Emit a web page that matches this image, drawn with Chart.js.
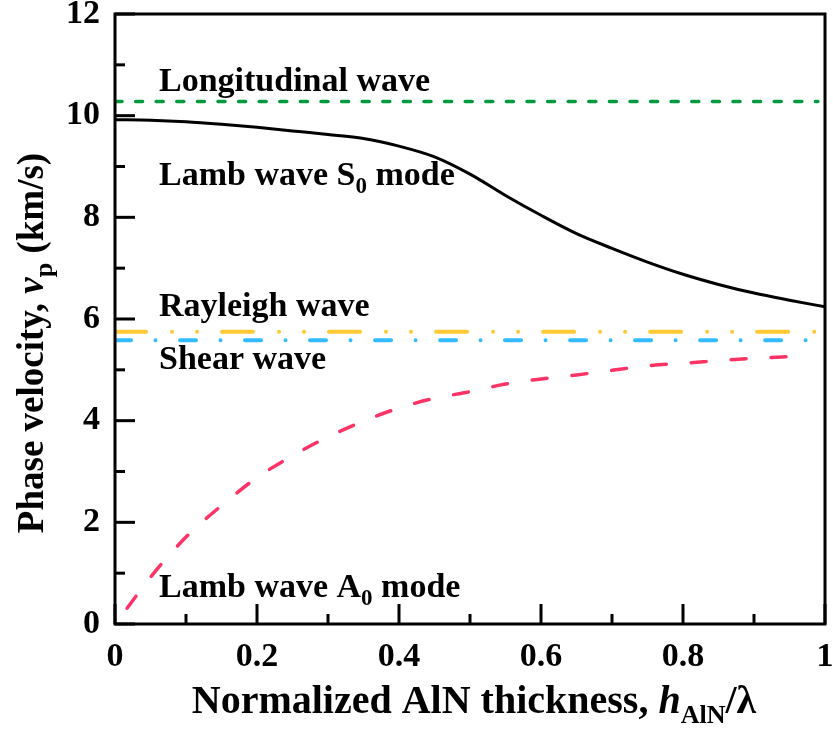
<!DOCTYPE html>
<html>
<head>
<meta charset="utf-8">
<script src="https://cdn.jsdelivr.net/npm/chart.js@4.4.0/dist/chart.umd.min.js"></script>
<style>
  body { margin: 0; background: #fff; }
  #wrap { width: 833px; height: 729px; }
</style>
</head>
<body>
<div id="wrap"><canvas id="phaseChart"></canvas></div>
<script>
// Lamb wave S0 mode (black solid)
const s0X = [0, 0.05, 0.1, 0.15, 0.2, 0.25, 0.3, 0.35, 0.4, 0.45, 0.5, 0.55, 0.6, 0.65, 0.7, 0.75, 0.8, 0.85, 0.9, 0.95, 1.0];
const s0Y = [9.92, 9.91, 9.88, 9.83, 9.77, 9.70, 9.63, 9.55, 9.40, 9.19, 8.85, 8.43, 8.04, 7.68, 7.39, 7.12, 6.88, 6.68, 6.51, 6.37, 6.24];

// Lamb wave A0 mode (red dashed)
const a0X = [0.017, 0.05, 0.1, 0.15, 0.2, 0.25, 0.3, 0.35, 0.4, 0.45, 0.5, 0.55, 0.6, 0.65, 0.7, 0.75, 0.8, 0.85, 0.9, 0.95, 0.97];
const a0Y = [0.31, 0.92, 1.71, 2.33, 2.88, 3.31, 3.68, 3.99, 4.25, 4.44, 4.57, 4.72, 4.82, 4.90, 4.99, 5.08, 5.13, 5.18, 5.23, 5.26, 5.28];

// bulk wave velocities (horizontal lines)
const longitudinalV = 10.28;
const rayleighV = 5.75;
const shearV = 5.58;
const flatX = [0, 0.99];

const xTickLabels = ["0", "0.2", "0.4", "0.6", "0.8", "1"];
const yTickLabels = ["0", "2", "4", "6", "8", "10", "12"];

const serif = '"Liberation Serif", "Times New Roman", serif';

function pts(xs, ys) {
  return xs.map((x, i) => ({ x: x, y: ys[i] }));
}
function flat(v) {
  return flatX.map(x => ({ x: x, y: v }));
}

function fontOf(p) {
  return (p[2] ? "italic " : "") + "bold " + p[1] + "px " + serif;
}

// parts: [text, size, italic, dy]
function drawRich(ctx, parts, x, y, align) {
  let total = 0;
  parts.forEach(p => { ctx.font = fontOf(p); total += ctx.measureText(p[0]).width; });
  let cx = align === "center" ? x - total / 2 : x;
  parts.forEach(p => {
    ctx.font = fontOf(p);
    ctx.fillText(p[0], cx, y + (p[3] || 0));
    cx += ctx.measureText(p[0]).width;
  });
}

const decorations = {
  id: "decorations",
  afterDraw(chart) {
    const ctx = chart.ctx;
    const a = chart.chartArea;
    const xs = chart.scales.x;
    const ys = chart.scales.y;
    ctx.save();
    ctx.strokeStyle = "#000";
    ctx.lineWidth = 3;
    ctx.lineCap = "butt";

    // inward ticks, major + minor
    for (let v = 0; v <= 12; v++) {
      const py = ys.getPixelForValue(v);
      const len = v % 2 === 0 ? 20 : 10;
      ctx.beginPath();
      ctx.moveTo(a.left, py);
      ctx.lineTo(a.left + len, py);
      ctx.stroke();
    }
    for (let i = 0; i <= 10; i++) {
      const px = xs.getPixelForValue(i / 10);
      const len = i % 2 === 0 ? 20 : 10;
      ctx.beginPath();
      ctx.moveTo(px, a.bottom);
      ctx.lineTo(px, a.bottom - len);
      ctx.stroke();
    }
    ctx.strokeRect(a.left, a.top, a.right - a.left, a.bottom - a.top);

    // curve labels
    ctx.fillStyle = "#000";
    ctx.textBaseline = "alphabetic";
    ctx.textAlign = "left";
    const lx = a.left + 44;
    drawRich(ctx, [["Longitudinal wave", 34]], lx, 91);
    drawRich(ctx, [["Lamb wave S", 34], ["0", 23, false, 8], [" mode", 34]], lx, 185);
    drawRich(ctx, [["Rayleigh wave", 34]], lx, 316);
    drawRich(ctx, [["Shear wave", 34]], lx, 369);
    drawRich(ctx, [["Lamb wave A", 34], ["0", 23, false, 8], [" mode", 34]], lx, 597);

    // axis titles
    drawRich(ctx, [["Normalized AlN thickness, ", 40], ["h", 40, true], ["AlN", 26, false, 10], ["/\u03bb", 40]],
      474, 713, "center");
    ctx.translate(43, (a.top + a.bottom) / 2 + 24);
    ctx.rotate(-Math.PI / 2);
    drawRich(ctx, [["Phase velocity, ", 37], ["v", 37, true], ["p", 26, false, 9], [" (km/s)", 37]], 0, 0, "center");
    ctx.restore();
  }
};

const ctx = document.getElementById("phaseChart").getContext("2d");

new Chart(ctx, {
  type: "line",
  data: {
    datasets: [
      {
        label: "Longitudinal wave",
        data: flat(longitudinalV),
        borderColor: "#009a3e",
        borderWidth: 3.5,
        borderDash: [7, 13.6],
        borderCapStyle: "round",
        pointRadius: 0,
      },
      {
        label: "Rayleigh wave",
        data: flat(rayleighV),
        borderColor: "#ffc933",
        borderWidth: 4,
        borderDash: [31, 26, 0.01, 25, 0.01, 25],
        borderCapStyle: "round",
        pointRadius: 0,
      },
      {
        label: "Shear wave",
        data: flat(shearV),
        borderColor: "#33bbff",
        borderWidth: 4,
        borderDash: [16, 24.5, 0.01, 24.5],
        borderCapStyle: "round",
        pointRadius: 0,
      },
      {
        label: "Lamb wave S0 mode",
        data: pts(s0X, s0Y),
        borderColor: "#000",
        borderWidth: 3,
        cubicInterpolationMode: "monotone",
        pointRadius: 0,
      },
      {
        label: "Lamb wave A0 mode",
        data: pts(a0X, a0Y),
        borderColor: "#ff3366",
        borderWidth: 3.5,
        borderDash: [15, 25],
        borderCapStyle: "round",
        cubicInterpolationMode: "monotone",
        pointRadius: 0,
      },
    ],
  },
  options: {
    responsive: true,
    maintainAspectRatio: false,
    animation: false,
    layout: {
      padding: { top: 14, right: 8, left: 0, bottom: 0 },
    },
    plugins: {
      legend: { display: false },
      tooltip: { enabled: false },
    },
    scales: {
      x: {
        type: "linear",
        min: 0,
        max: 1,
        grid: { display: false, drawTicks: false },
        border: { display: false },
        ticks: {
          stepSize: 0.2,
          color: "#000",
          padding: 16,
          maxRotation: 0,
          font: { family: serif, size: 34, weight: "bold", lineHeight: 1 },
          callback: function (value, index) {
            return xTickLabels[index];
          },
        },
        afterFit: function (scale) {
          scale.height = 105;
          scale.paddingLeft = 0;
          scale.paddingRight = 0;
        },
      },
      y: {
        min: 0,
        max: 12,
        grid: { display: false, drawTicks: false },
        border: { display: false },
        ticks: {
          stepSize: 2,
          color: "#000",
          padding: 15,
          font: { family: serif, size: 34, weight: "bold", lineHeight: 1 },
          callback: function (value, index) {
            return yTickLabels[index];
          },
        },
        afterFit: function (scale) {
          scale.width = 115;
          scale.paddingTop = 0;
          scale.paddingBottom = 0;
        },
      },
    },
  },
  plugins: [decorations],
});
</script>
</body>
</html>
